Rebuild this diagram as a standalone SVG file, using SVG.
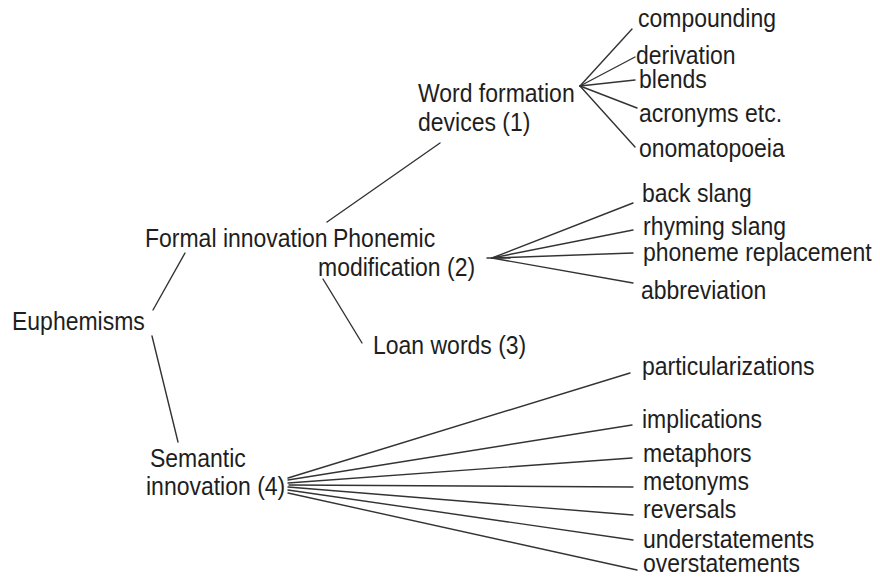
<svg xmlns="http://www.w3.org/2000/svg" width="880" height="583" viewBox="0 0 880 583">
<style>
text{font-family:"Liberation Sans",Arial,sans-serif;font-size:23px;fill:#1e1e1e}
.c line{stroke:#333;stroke-width:1.4;stroke-linecap:round}
</style>
<rect width="880" height="583" fill="#fff"/>
<g class="c" id="connectors">
<line x1="153" y1="310" x2="185" y2="253"/>
<line x1="152" y1="336" x2="178" y2="442"/>
<line x1="327" y1="222" x2="440" y2="143"/>
<line x1="323" y1="279" x2="362" y2="343"/>
<line x1="580" y1="86" x2="632" y2="29"/>
<line x1="580" y1="86" x2="635" y2="57"/>
<line x1="580" y1="86" x2="635" y2="80"/>
<line x1="580" y1="86" x2="637" y2="108"/>
<line x1="580" y1="86" x2="635" y2="147"/>
<line x1="487" y1="258" x2="510" y2="258"/>
<line x1="492" y1="258" x2="633" y2="203"/>
<line x1="492" y1="258" x2="633" y2="230"/>
<line x1="492" y1="258" x2="633" y2="253"/>
<line x1="492" y1="258" x2="633" y2="283"/>
<line x1="288" y1="478" x2="630" y2="373"/>
<line x1="288" y1="480" x2="632" y2="425"/>
<line x1="288" y1="483" x2="632" y2="458"/>
<line x1="289" y1="485" x2="633" y2="487"/>
<line x1="288" y1="487" x2="633" y2="515"/>
<line x1="288" y1="490" x2="633" y2="540"/>
<line x1="288" y1="493" x2="637" y2="570"/>
</g>
<g id="euphemisms"><text transform="translate(12,330) scale(1,1.1)">Euphemisms</text></g>
<g id="formal"><text transform="translate(145,247) scale(1,1.1)">Formal innovation</text></g>
<g id="semantic"><text transform="translate(150,467) scale(1,1.1)">Semantic</text><text transform="translate(146,495) scale(1,1.1)">innovation (4)</text></g>
<g id="wordformation"><text transform="translate(418,102) scale(1,1.1)">Word formation</text><text transform="translate(418,131) scale(1,1.1)">devices (1)</text></g>
<g id="phonemic"><text transform="translate(333,247) scale(1,1.1)">Phonemic</text><text transform="translate(318,276) scale(1,1.1)">modification (2)</text></g>
<g id="loan"><text transform="translate(373,354) scale(1,1.1)">Loan words (3)</text></g>
<g id="compounding"><text transform="translate(638,27) scale(1,1.1)">compounding</text></g>
<g id="derivation"><text transform="translate(636,64) scale(1,1.1)">derivation</text></g>
<g id="blends"><text transform="translate(639,88) scale(1,1.1)">blends</text></g>
<g id="acronyms"><text transform="translate(639,122) scale(1,1.1)">acronyms etc.</text></g>
<g id="onomatopoeia"><text transform="translate(639,157) scale(1,1.1)">onomatopoeia</text></g>
<g id="backslang"><text transform="translate(642,202) scale(1,1.1)">back slang</text></g>
<g id="rhymingslang"><text transform="translate(643,235) scale(1,1.1)">rhyming slang</text></g>
<g id="phonemereplacement"><text transform="translate(643,261) scale(1,1.1)">phoneme replacement</text></g>
<g id="abbreviation"><text transform="translate(641,299) scale(1,1.1)">abbreviation</text></g>
<g id="particularizations"><text transform="translate(642,375) scale(1,1.1)">particularizations</text></g>
<g id="implications"><text transform="translate(642,428) scale(1,1.1)">implications</text></g>
<g id="metaphors"><text transform="translate(643,462) scale(1,1.1)">metaphors</text></g>
<g id="metonyms"><text transform="translate(643,490) scale(1,1.1)">metonyms</text></g>
<g id="reversals"><text transform="translate(643,518) scale(1,1.1)">reversals</text></g>
<g id="understatements"><text transform="translate(643,548) scale(1,1.1)">understatements</text></g>
<g id="overstatements"><text transform="translate(643,572) scale(1,1.1)">overstatements</text></g>
</svg>
